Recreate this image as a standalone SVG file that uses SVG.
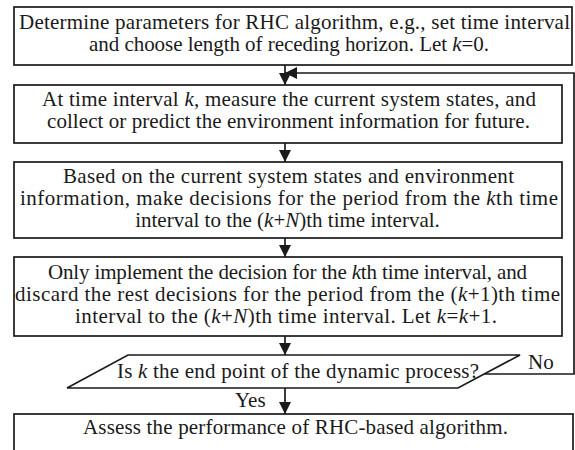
<svg xmlns="http://www.w3.org/2000/svg" width="575" height="450" viewBox="0 0 575 450">
<style>
.box{fill:#fff;stroke:#1a1a1a;stroke-width:1.7}
.c{fill:none;stroke:#1a1a1a;stroke-width:1.7}
text{font-family:'Liberation Serif','Times New Roman',Times,'DejaVu Serif',serif;font-size:21px;fill:#1a1a1a}
.t{text-anchor:middle}
</style>
<defs>
<marker id="ah" viewBox="0 0 12 12" refX="12" refY="6" markerWidth="12" markerHeight="12" markerUnits="userSpaceOnUse" orient="auto">
<path d="M0,0 L12,6 L0,12 Z" fill="#1a1a1a"/>
</marker>
</defs>
<rect width="575" height="450" fill="#fff"/>
<g id="connectors">
<line class="c" x1="285" y1="65" x2="285" y2="85" marker-end="url(#ah)"/>
<polyline class="c" points="484,374 574,374 574,73 285,73" marker-end="url(#ah)"/>
<line class="c" x1="285" y1="143" x2="285" y2="162" marker-end="url(#ah)"/>
<line class="c" x1="285" y1="238" x2="285" y2="257" marker-end="url(#ah)"/>
<line class="c" x1="285" y1="336" x2="285" y2="355" marker-end="url(#ah)"/>
<line class="c" x1="285" y1="388" x2="285" y2="414" marker-end="url(#ah)"/>
<text font-family="Liberation Serif, serif" x="528" y="369">No</text>
<text font-family="Liberation Serif, serif" x="235" y="407">Yes</text>
</g>
<g id="n1">
<rect class="box" x="14" y="7" width="558" height="58"/>
<text class="t" font-family="Liberation Serif, serif" x="294.5" y="29" textLength="551" lengthAdjust="spacing">Determine parameters for RHC algorithm, e.g., set time interval</text>
<text class="t" font-family="Liberation Serif, serif" x="289" y="51" textLength="400" lengthAdjust="spacing">and choose length of receding horizon. Let <tspan font-style="italic">k</tspan>=0.</text>
</g>
<g id="n2">
<rect class="box" x="14" y="85" width="548" height="58"/>
<text class="t" font-family="Liberation Serif, serif" x="289" y="106" textLength="494" lengthAdjust="spacing">At time interval <tspan font-style="italic">k</tspan>, measure the current system states, and</text>
<text class="t" font-family="Liberation Serif, serif" x="288.5" y="128" textLength="483" lengthAdjust="spacing">collect or predict the environment information for future.</text>
</g>
<g id="n3">
<rect class="box" x="14" y="162" width="548" height="76"/>
<text class="t" font-family="Liberation Serif, serif" x="288.5" y="183" textLength="451" lengthAdjust="spacing">Based on the current system states and environment</text>
<text class="t" font-family="Liberation Serif, serif" x="289" y="205" textLength="538" lengthAdjust="spacing">information, make decisions for the period from the <tspan font-style="italic">k</tspan>th time</text>
<text class="t" font-family="Liberation Serif, serif" font-size="21.8" x="287.5" y="227">interval to the (<tspan font-style="italic">k</tspan>+<tspan font-style="italic">N</tspan>)th time interval.</text>
</g>
<g id="n4">
<rect class="box" x="14" y="257" width="548" height="79"/>
<text class="t" font-family="Liberation Serif, serif" x="287.5" y="279" textLength="479" lengthAdjust="spacing">Only implement the decision for the <tspan font-style="italic">k</tspan>th time interval, and</text>
<text class="t" font-family="Liberation Serif, serif" x="287.5" y="301" textLength="545" lengthAdjust="spacing">discard the rest decisions for the period from the (<tspan font-style="italic">k</tspan>+1)th time</text>
<text class="t" font-family="Liberation Serif, serif" x="286" y="323" textLength="422" lengthAdjust="spacing">interval to the (<tspan font-style="italic">k</tspan>+<tspan font-style="italic">N</tspan>)th time interval. Let <tspan font-style="italic">k</tspan>=<tspan font-style="italic">k</tspan>+1.</text>
</g>
<g id="n5">
<polygon class="box" points="128,355 520,355 458,388 67,388"/>
<text class="t" font-family="Liberation Serif, serif" x="298" y="378" textLength="362" lengthAdjust="spacing">Is <tspan font-style="italic">k</tspan> the end point of the dynamic process?</text>
</g>
<g id="n6">
<rect class="box" x="14" y="414" width="559" height="60"/>
<text class="t" font-family="Liberation Serif, serif" x="295.5" y="434" textLength="425" lengthAdjust="spacing">Assess the performance of RHC-based algorithm.</text>
</g>
</svg>
